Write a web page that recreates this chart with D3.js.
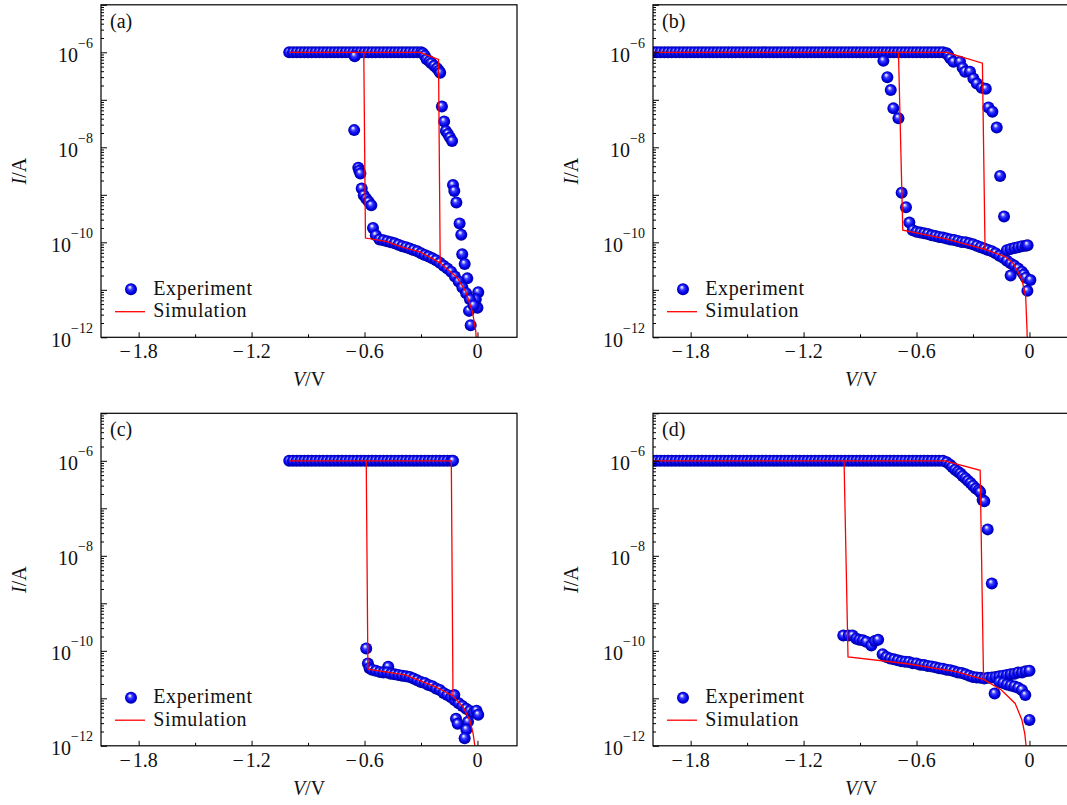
<!DOCTYPE html>
<html>
<head>
<meta charset="utf-8">
<script src="https://cdn.jsdelivr.net/npm/d3@7"></script>
<style>
  html, body { margin: 0; padding: 0; background: #ffffff; }
  svg { display: block; font-family: 'Liberation Serif', 'Times New Roman', serif; }
</style>
</head>
<body>
<svg id="chart" width="1067" height="805"></svg>
<script>
// ---------------------------------------------------------------
// Measured I–V hysteresis (blue spheres) and simulated loop (red)
// Each entry: [V in volts, I in amperes]
// ---------------------------------------------------------------

const expA = [
  // compliance plateau
  [-1.00,1.0e-6],[-0.98,1.0e-6],[-0.96,1.0e-6],[-0.94,1.0e-6],[-0.92,1.0e-6],[-0.90,1.0e-6],
  [-0.88,1.0e-6],[-0.86,1.0e-6],[-0.84,1.0e-6],[-0.82,1.0e-6],[-0.80,1.0e-6],[-0.78,1.0e-6],
  [-0.76,1.0e-6],[-0.74,1.0e-6],[-0.72,1.0e-6],[-0.70,1.0e-6],[-0.68,1.0e-6],[-0.66,1.0e-6],
  [-0.64,1.0e-6],[-0.62,1.0e-6],[-0.60,1.0e-6],[-0.58,1.0e-6],[-0.56,1.0e-6],[-0.54,1.0e-6],
  [-0.52,1.0e-6],[-0.50,1.0e-6],[-0.48,1.0e-6],[-0.46,1.0e-6],[-0.44,1.0e-6],[-0.42,1.0e-6],
  [-0.40,1.0e-6],[-0.38,1.0e-6],[-0.36,1.0e-6],[-0.34,1.0e-6],[-0.32,1.0e-6],[-0.30,1.0e-6],
  // roll-off before reset
  [-0.29,9.5e-7],[-0.28,8.5e-7],[-0.27,7.1e-7],[-0.255,6.5e-7],[-0.245,5.9e-7],[-0.23,5.2e-7],
  [-0.215,4.6e-7],[-0.205,4.1e-7],[-0.198,3.7e-7],
  [-0.189,7.2e-8],[-0.177,3.5e-8],[-0.168,2.2e-8],[-0.157,1.9e-8],[-0.146,1.6e-8],[-0.135,1.35e-8],
  [-0.130,1.6e-9],[-0.123,1.2e-9],[-0.112,6.9e-10],[-0.095,2.5e-10],[-0.086,1.45e-10],
  [-0.081,5.6e-11],[-0.068,3.5e-11],[-0.054,1.74e-11],
  [0.004,8.9e-12],[-0.009,6.3e-12],[0.0,4.2e-12],[-0.045,3.6e-12],[-0.036,1.8e-12],
  // set branch
  [-0.652,8.3e-7],[-0.655,2.3e-8],[-0.633,3.7e-9],[-0.628,3.2e-9],[-0.622,2.8e-9],[-0.615,1.35e-9],
  [-0.604,9.8e-10],[-0.591,8.3e-10],[-0.578,7.1e-10],[-0.564,6.0e-10],[-0.555,2.0e-10],
  // high-resistance state
  [-0.54,1.4e-10],[-0.52,1.15e-10],[-0.50,1.1e-10],[-0.48,1.05e-10],[-0.46,1.0e-10],[-0.44,9.5e-11],
  [-0.42,8.9e-11],[-0.40,8.3e-11],[-0.38,7.9e-11],[-0.36,7.4e-11],[-0.34,6.9e-11],[-0.32,6.5e-11],
  [-0.30,5.9e-11],[-0.28,5.4e-11],[-0.26,5.0e-11],[-0.24,4.6e-11],[-0.22,4.2e-11],[-0.20,3.7e-11],
  [-0.18,3.2e-11],[-0.16,2.8e-11],[-0.14,2.4e-11],[-0.12,1.9e-11],[-0.10,1.5e-11],[-0.08,1.12e-11],
  [-0.06,8.5e-12],[-0.04,6.3e-12],[-0.02,4.7e-12]
];

const expB = [
  [-2.00,1.0e-6],[-1.98,1.0e-6],[-1.96,1.0e-6],[-1.94,1.0e-6],[-1.92,1.0e-6],[-1.90,1.0e-6],
  [-1.88,1.0e-6],[-1.86,1.0e-6],[-1.84,1.0e-6],[-1.82,1.0e-6],[-1.80,1.0e-6],[-1.78,1.0e-6],
  [-1.76,1.0e-6],[-1.74,1.0e-6],[-1.72,1.0e-6],[-1.70,1.0e-6],[-1.68,1.0e-6],[-1.66,1.0e-6],
  [-1.64,1.0e-6],[-1.62,1.0e-6],[-1.60,1.0e-6],[-1.58,1.0e-6],[-1.56,1.0e-6],[-1.54,1.0e-6],
  [-1.52,1.0e-6],[-1.50,1.0e-6],[-1.48,1.0e-6],[-1.46,1.0e-6],[-1.44,1.0e-6],[-1.42,1.0e-6],
  [-1.40,1.0e-6],[-1.38,1.0e-6],[-1.36,1.0e-6],[-1.34,1.0e-6],[-1.32,1.0e-6],[-1.30,1.0e-6],
  [-1.28,1.0e-6],[-1.26,1.0e-6],[-1.24,1.0e-6],[-1.22,1.0e-6],[-1.20,1.0e-6],[-1.18,1.0e-6],
  [-1.16,1.0e-6],[-1.14,1.0e-6],[-1.12,1.0e-6],[-1.10,1.0e-6],[-1.08,1.0e-6],[-1.06,1.0e-6],
  [-1.04,1.0e-6],[-1.02,1.0e-6],[-1.00,1.0e-6],[-0.98,1.0e-6],[-0.96,1.0e-6],[-0.94,1.0e-6],
  [-0.92,1.0e-6],[-0.90,1.0e-6],[-0.88,1.0e-6],[-0.86,1.0e-6],[-0.84,1.0e-6],[-0.82,1.0e-6],
  [-0.80,1.0e-6],[-0.78,1.0e-6],[-0.76,1.0e-6],[-0.74,1.0e-6],[-0.72,1.0e-6],[-0.70,1.0e-6],
  [-0.68,1.0e-6],[-0.66,1.0e-6],[-0.64,1.0e-6],[-0.62,1.0e-6],[-0.60,1.0e-6],[-0.58,1.0e-6],
  [-0.56,1.0e-6],[-0.54,1.0e-6],[-0.52,1.0e-6],[-0.50,1.0e-6],[-0.48,1.0e-6],[-0.46,1.0e-6],
  [-0.44,9.5e-7],[-0.431,8.7e-7],[-0.42,7.4e-7],[-0.404,6.3e-7],[-0.369,6.3e-7],[-0.355,4.7e-7],
  [-0.342,3.9e-7],[-0.316,3.9e-7],[-0.298,2.8e-7],[-0.280,2.2e-7],[-0.254,1.8e-7],[-0.232,1.7e-7],
  [-0.218,6.9e-8],[-0.197,5.6e-8],[-0.174,2.6e-8],[-0.156,2.5e-9],[-0.135,3.5e-10],
  [-0.776,6.6e-7],[-0.755,3.0e-7],[-0.737,1.6e-7],[-0.723,6.6e-8],[-0.696,4.1e-8],
  [-0.679,1.1e-9],[-0.656,5.5e-10],[-0.638,2.6e-10],
  [-0.62,1.8e-10],[-0.60,1.66e-10],[-0.58,1.6e-10],[-0.56,1.55e-10],[-0.54,1.5e-10],[-0.52,1.4e-10],
  [-0.50,1.35e-10],[-0.48,1.3e-10],[-0.46,1.26e-10],[-0.44,1.2e-10],[-0.42,1.15e-10],[-0.40,1.12e-10],
  [-0.38,1.07e-10],[-0.36,1.02e-10],[-0.34,1.0e-10],[-0.32,9.5e-11],[-0.30,9.1e-11],[-0.28,8.5e-11],
  [-0.26,7.9e-11],[-0.24,7.4e-11],[-0.22,6.9e-11],[-0.20,6.5e-11],[-0.18,5.9e-11],[-0.16,5.2e-11],
  [-0.14,4.7e-11],[-0.12,4.1e-11],[-0.10,3.6e-11],[-0.08,3.2e-11],[-0.06,2.8e-11],[-0.04,2.4e-11],
  [-0.12,6.8e-11],[-0.10,7.2e-11],[-0.08,7.6e-11],[-0.06,7.9e-11],[-0.04,8.3e-11],[-0.02,8.5e-11],
  [-0.01,8.7e-11],
  [-0.10,2.0e-11],[-0.03,2.1e-11],[-0.02,1.8e-11],[-0.011,9.5e-12],[0.005,1.6e-11]
];

const expC = [
  [-1.00,1.0e-6],[-0.98,1.0e-6],[-0.96,1.0e-6],[-0.94,1.0e-6],[-0.92,1.0e-6],[-0.90,1.0e-6],
  [-0.88,1.0e-6],[-0.86,1.0e-6],[-0.84,1.0e-6],[-0.82,1.0e-6],[-0.80,1.0e-6],[-0.78,1.0e-6],
  [-0.76,1.0e-6],[-0.74,1.0e-6],[-0.72,1.0e-6],[-0.70,1.0e-6],[-0.68,1.0e-6],[-0.66,1.0e-6],
  [-0.64,1.0e-6],[-0.62,1.0e-6],[-0.60,1.0e-6],[-0.58,1.0e-6],[-0.56,1.0e-6],[-0.54,1.0e-6],
  [-0.52,1.0e-6],[-0.50,1.0e-6],[-0.48,1.0e-6],[-0.46,1.0e-6],[-0.44,1.0e-6],[-0.42,1.0e-6],
  [-0.40,1.0e-6],[-0.38,1.0e-6],[-0.36,1.0e-6],[-0.34,1.0e-6],[-0.32,1.0e-6],[-0.30,1.0e-6],
  [-0.28,1.0e-6],[-0.26,1.0e-6],[-0.24,1.0e-6],[-0.22,1.0e-6],[-0.20,1.0e-6],[-0.18,1.0e-6],
  [-0.16,1.0e-6],[-0.14,1.0e-6],[-0.13,1.0e-6],
  [-0.591,1.12e-10],[-0.582,5.4e-11],[-0.573,4.3e-11],[-0.474,4.6e-11],
  [-0.56,4.0e-11],[-0.54,3.8e-11],[-0.52,3.6e-11],[-0.50,3.5e-11],[-0.48,3.5e-11],[-0.46,3.3e-11],
  [-0.44,3.2e-11],[-0.42,3.1e-11],[-0.40,3.0e-11],[-0.38,2.9e-11],[-0.36,2.8e-11],[-0.34,2.6e-11],
  [-0.32,2.4e-11],[-0.30,2.2e-11],[-0.28,2.1e-11],[-0.26,1.9e-11],[-0.24,1.8e-11],[-0.22,1.6e-11],
  [-0.20,1.5e-11],[-0.18,1.3e-11],[-0.16,1.17e-11],[-0.14,1.05e-11],[-0.12,9.1e-12],[-0.10,7.9e-12],
  [-0.08,6.9e-12],[-0.06,6.0e-12],[-0.04,5.4e-12],[-0.02,5.0e-12],
  [-0.123,1.17e-11],[-0.005,5.5e-12],[0.004,4.5e-12],[-0.114,3.7e-12],[-0.105,2.9e-12],
  [-0.05,3.2e-12],[-0.059,2.2e-12],[-0.068,1.45e-12]
];

const expD = [
  [-2.00,1.0e-6],[-1.98,1.0e-6],[-1.96,1.0e-6],[-1.94,1.0e-6],[-1.92,1.0e-6],[-1.90,1.0e-6],
  [-1.88,1.0e-6],[-1.86,1.0e-6],[-1.84,1.0e-6],[-1.82,1.0e-6],[-1.80,1.0e-6],[-1.78,1.0e-6],
  [-1.76,1.0e-6],[-1.74,1.0e-6],[-1.72,1.0e-6],[-1.70,1.0e-6],[-1.68,1.0e-6],[-1.66,1.0e-6],
  [-1.64,1.0e-6],[-1.62,1.0e-6],[-1.60,1.0e-6],[-1.58,1.0e-6],[-1.56,1.0e-6],[-1.54,1.0e-6],
  [-1.52,1.0e-6],[-1.50,1.0e-6],[-1.48,1.0e-6],[-1.46,1.0e-6],[-1.44,1.0e-6],[-1.42,1.0e-6],
  [-1.40,1.0e-6],[-1.38,1.0e-6],[-1.36,1.0e-6],[-1.34,1.0e-6],[-1.32,1.0e-6],[-1.30,1.0e-6],
  [-1.28,1.0e-6],[-1.26,1.0e-6],[-1.24,1.0e-6],[-1.22,1.0e-6],[-1.20,1.0e-6],[-1.18,1.0e-6],
  [-1.16,1.0e-6],[-1.14,1.0e-6],[-1.12,1.0e-6],[-1.10,1.0e-6],[-1.08,1.0e-6],[-1.06,1.0e-6],
  [-1.04,1.0e-6],[-1.02,1.0e-6],[-1.00,1.0e-6],[-0.98,1.0e-6],[-0.96,1.0e-6],[-0.94,1.0e-6],
  [-0.92,1.0e-6],[-0.90,1.0e-6],[-0.88,1.0e-6],[-0.86,1.0e-6],[-0.84,1.0e-6],[-0.82,1.0e-6],
  [-0.80,1.0e-6],[-0.78,1.0e-6],[-0.76,1.0e-6],[-0.74,1.0e-6],[-0.72,1.0e-6],[-0.70,1.0e-6],
  [-0.68,1.0e-6],[-0.66,1.0e-6],[-0.64,1.0e-6],[-0.62,1.0e-6],[-0.60,1.0e-6],[-0.58,1.0e-6],
  [-0.56,1.0e-6],[-0.54,1.0e-6],[-0.52,1.0e-6],[-0.50,1.0e-6],[-0.48,1.0e-6],[-0.46,1.0e-6],
  [-0.44,9.3e-7],[-0.422,8.3e-7],[-0.41,7.4e-7],[-0.395,6.5e-7],[-0.38,5.9e-7],[-0.367,5.4e-7],
  [-0.355,4.8e-7],[-0.340,4.3e-7],[-0.327,3.8e-7],[-0.313,3.4e-7],[-0.30,3.0e-7],[-0.285,2.6e-7],
  [-0.27,2.4e-7],[-0.262,2.2e-7],[-0.249,1.5e-7],[-0.240,1.4e-7],[-0.222,3.6e-8],[-0.200,2.6e-9],
  [-0.989,2.1e-10],[-0.96,2.1e-10],[-0.940,2.1e-10],[-0.92,1.8e-10],[-0.904,1.7e-10],
  [-0.885,1.66e-10],[-0.867,1.55e-10],[-0.840,1.3e-10],[-0.822,1.6e-10],[-0.804,1.7e-10],
  [-0.78,8.5e-11],[-0.76,7.4e-11],[-0.74,6.9e-11],[-0.72,6.6e-11],[-0.70,6.3e-11],[-0.68,6.0e-11],
  [-0.66,5.9e-11],[-0.64,5.8e-11],[-0.62,5.5e-11],[-0.60,5.4e-11],[-0.58,5.1e-11],[-0.56,5.0e-11],
  [-0.54,4.8e-11],[-0.52,4.7e-11],[-0.50,4.5e-11],[-0.48,4.3e-11],[-0.46,4.2e-11],[-0.44,4.0e-11],
  [-0.42,3.9e-11],[-0.40,3.7e-11],[-0.38,3.5e-11],[-0.36,3.4e-11],[-0.34,3.2e-11],[-0.32,3.0e-11],
  [-0.30,2.8e-11],[-0.28,2.75e-11],[-0.26,2.7e-11],[-0.24,2.6e-11],[-0.22,2.7e-11],
  [-0.20,2.75e-11],[-0.18,2.8e-11],[-0.16,2.9e-11],[-0.14,3.0e-11],[-0.12,3.1e-11],[-0.10,3.2e-11],
  [-0.08,3.3e-11],[-0.06,3.5e-11],[-0.04,3.5e-11],[-0.02,3.7e-11],[0.0,3.8e-11],
  [-0.185,1.26e-11],[-0.16,2.2e-11],[-0.14,2.1e-11],[-0.12,1.95e-11],[-0.10,1.86e-11],
  [-0.08,1.78e-11],[-0.06,1.66e-11],[-0.04,1.5e-11],[-0.022,1.17e-11],[0.0,3.5e-12]
];

// simulated loops, listed in drawing order
const simA = [[-0.003,5e-13],[-0.009,1.35e-12],[-0.027,3.5e-12],[-0.063,9.3e-12],[-0.108,1.8e-11],
  [-0.198,3.7e-11],[-0.306,6.3e-11],[-0.396,7.8e-11],[-0.486,1.05e-10],[-0.595,1.23e-10],
  [-0.604,1.0e-6],[-1.0,1.0e-6],[-0.306,1.0e-6],[-0.207,7.1e-7],[-0.198,3.7e-11]];
const simB = [[-0.010,3e-13],[-0.013,1.4e-12],[-0.020,7.1e-12],[-0.041,1.7e-11],[-0.086,3.6e-11],
  [-0.130,5.0e-11],[-0.236,7.1e-11],[-0.45,1.2e-10],[-0.673,1.8e-10],[-0.696,1.0e-6],
  [-2.05,1.0e-6],[-0.44,1.0e-6],[-0.250,5.9e-7],[-0.236,7.1e-11]];
const simC = [[-0.010,3e-13],[-0.014,1.0e-12],[-0.023,1.8e-12],[-0.041,3.5e-12],[-0.077,6.6e-12],
  [-0.130,1.12e-11],[-0.222,1.74e-11],[-0.384,3.1e-11],[-0.582,4.1e-11],[-0.591,1.0e-6],
  [-1.0,1.0e-6],[-0.139,1.0e-6],[-0.130,1.12e-11]];
const simD = [[-0.015,3e-13],[-0.018,1.0e-12],[-0.025,1.8e-12],[-0.040,3.5e-12],[-0.076,7.8e-12],
  [-0.149,1.5e-11],[-0.244,2.5e-11],[-0.385,3.6e-11],[-0.658,5.4e-11],[-0.964,7.4e-11],
  [-0.985,1.0e-6],[-2.05,1.0e-6],[-0.449,1.0e-6],[-0.262,6.3e-7],[-0.244,2.5e-11]];

const panelTags = ['(a)', '(b)', '(c)', '(d)'];
const xTickValues = [-1.8, -1.2, -0.6, 0];
const xTickLabels = ['−1.8', '−1.2', '−0.6', '0'];
const xMinorValues = [-1.5, -0.9, -0.3];
const yTickExponents = [-6, -8, -10, -12];
const legendLabels = ['Experiment', 'Simulation'];

// ---------------------------------------------------------------
// layout
// ---------------------------------------------------------------
const W = 416, H = 332.5;
const colX = [101, 653];
const rowY = [4.8, 413.3];
const panels = [
  { tag: panelTags[0], col: 0, row: 0, exp: expA, sim: simA },
  { tag: panelTags[1], col: 1, row: 0, exp: expB, sim: simB },
  { tag: panelTags[2], col: 0, row: 1, exp: expC, sim: simC },
  { tag: panelTags[3], col: 1, row: 1, exp: expD, sim: simD }
];

const x = d3.scaleLinear().domain([-2.0, 0.21]).range([0, W]);
const y = d3.scaleLog().domain([1e-12, 1e-5]).range([H, 0]);

const decades = d3.range(-12, -4).map(e => Math.pow(10, e));
const yMinor = [];
for (let e = -12; e < -5; e++) for (let k = 2; k <= 9; k++) yMinor.push(k * Math.pow(10, e));

const svg = d3.select('#chart');
const defs = svg.append('defs');

// shaded sphere marker
const grad = defs.append('radialGradient')
  .attr('id', 'ball').attr('cx', '50%').attr('cy', '50%').attr('r', '50%')
  .attr('fx', '38%').attr('fy', '30%');
[['0%', '#ffffff'], ['14%', '#c9c9ff'], ['38%', '#3b3bff'], ['75%', '#0000e8'], ['100%', '#00009c']]
  .forEach(([o, c]) => grad.append('stop').attr('offset', o).attr('stop-color', c));

const line = d3.line().x(d => x(d[0])).y(d => y(d[1]));
const R = 6;

panels.forEach((p, i) => {
  const g = svg.append('g').attr('transform', `translate(${colX[p.col]},${rowY[p.row]})`);

  defs.append('clipPath').attr('id', `clip${i}`)
    .append('rect').attr('x', 0).attr('y', 0).attr('width', W).attr('height', H);

  const plot = g.append('g').attr('clip-path', `url(#clip${i})`);

  plot.selectAll('circle').data(p.exp).join('circle')
    .attr('cx', d => x(d[0])).attr('cy', d => y(d[1])).attr('r', R)
    .attr('fill', 'url(#ball)');

  plot.append('path').datum(p.sim)
    .attr('d', line).attr('fill', 'none')
    .attr('stroke', '#ff0000').attr('stroke-width', 1.3).attr('stroke-linejoin', 'miter');

  // inward ticks
  const axG = g.append('g').attr('stroke-width', 1);
  axG.append('g').attr('transform', `translate(0,${H})`)
    .call(d3.axisBottom(x).tickValues(xTickValues).tickSize(-5).tickFormat(''))
    .call(s => s.select('.domain').remove());
  axG.append('g').attr('transform', `translate(0,${H})`)
    .call(d3.axisBottom(x).tickValues(xMinorValues).tickSize(-3).tickFormat(''))
    .call(s => s.select('.domain').remove());
  axG.append('g')
    .call(d3.axisLeft(y).tickValues(decades).tickSize(-6).tickFormat(''))
    .call(s => s.select('.domain').remove());
  axG.append('g')
    .call(d3.axisLeft(y).tickValues(yMinor).tickSize(-3).tickFormat(''))
    .call(s => s.select('.domain').remove());

  // x tick labels
  xTickValues.forEach((v, k) => {
    const lab = xTickLabels[k];
    const t = g.append('text').attr('x', x(v)).attr('y', H + 21)
      .attr('text-anchor', 'middle').attr('font-size', 20).attr('fill', '#111');
    if (lab.startsWith('−')) {
      t.append('tspan').text('−');
      t.append('tspan').attr('dx', 2).text(lab.slice(1));
    } else {
      t.text(lab);
    }
  });

  // y tick labels 10^n
  yTickExponents.forEach(e => {
    const t = g.append('text').attr('x', -8).attr('y', y(Math.pow(10, e)) + 9.4)
      .attr('text-anchor', 'end').attr('font-size', 20).attr('fill', '#111');
    t.append('tspan').text('10');
    t.append('tspan').attr('dy', -13.7).attr('font-size', 14).text('−' + Math.abs(e));
  });

  // axis titles
  const xt = g.append('text').attr('x', W / 2).attr('y', H + 49)
    .attr('text-anchor', 'middle').attr('font-size', 20).attr('fill', '#111');
  xt.append('tspan').attr('font-style', 'italic').text('V');
  xt.append('tspan').text('/V');

  const yt = g.append('text')
    .attr('transform', `translate(-75,${H / 2}) rotate(-90)`)
    .attr('text-anchor', 'middle').attr('font-size', 20).attr('fill', '#111');
  yt.append('tspan').attr('font-style', 'italic').text('I');
  yt.append('tspan').text('/A');

  // panel tag
  g.append('text').attr('x', 9).attr('y', 23.2).attr('font-size', 20).attr('fill', '#111').text(p.tag);

  // legend
  const lg = g.append('g');
  lg.append('circle').attr('cx', 30).attr('cy', H - 48).attr('r', R).attr('fill', 'url(#ball)');
  lg.append('line').attr('x1', 14).attr('x2', 44).attr('y1', H - 25.6).attr('y2', H - 25.6)
    .attr('stroke', '#ff0000').attr('stroke-width', 1.3);
  lg.append('text').attr('x', 52.3).attr('y', H - 42.3).attr('font-size', 20).attr('fill', '#111')
    .attr('letter-spacing', 0.6).text(legendLabels[0]);
  lg.append('text').attr('x', 52.3).attr('y', H - 20).attr('font-size', 20).attr('fill', '#111')
    .attr('letter-spacing', 0.6).text(legendLabels[1]);

  // frame
  g.append('rect').attr('x', 0).attr('y', 0).attr('width', W).attr('height', H)
    .attr('fill', 'none').attr('stroke', '#000').attr('stroke-width', 1.2);
});
</script>
</body>
</html>
